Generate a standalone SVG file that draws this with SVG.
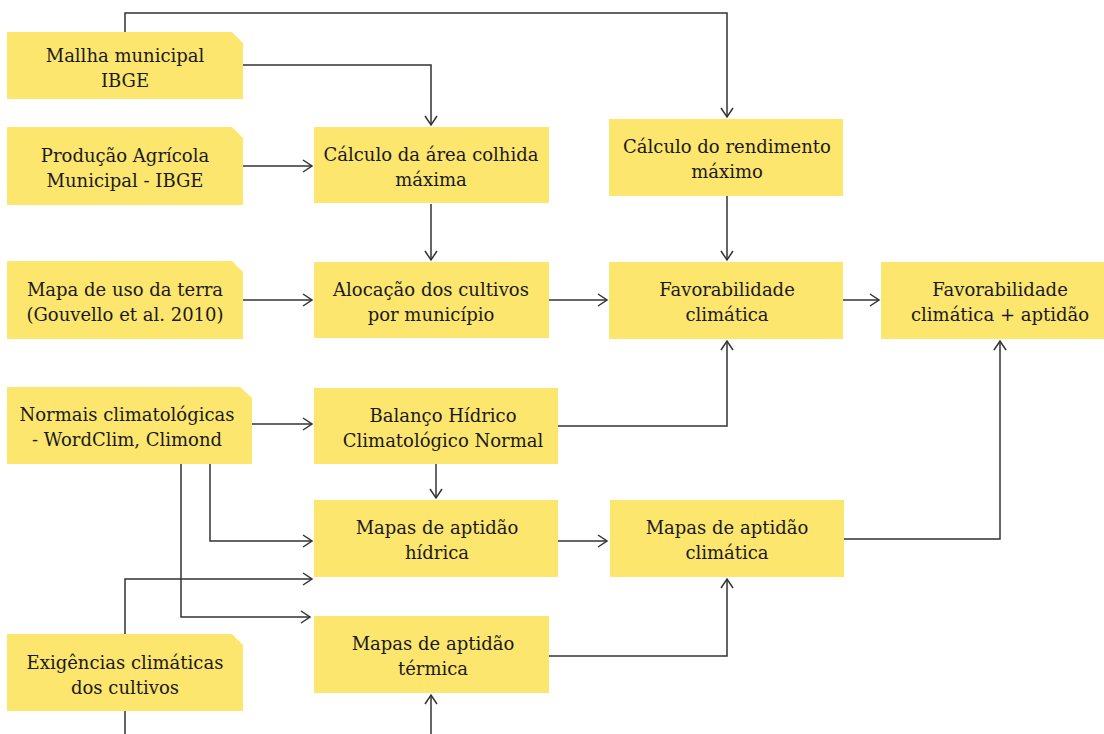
<svg xmlns="http://www.w3.org/2000/svg" width="1104" height="734" viewBox="0 0 1104 734">
<style>
.n{fill:#FDE66E;}
.t{font-family:"DejaVu Serif","Liberation Serif",serif;font-size:18px;fill:#1a1a1a;text-anchor:middle;}
.c{fill:none;stroke:#333;stroke-width:1.5;}
</style>
<defs>
<marker id="a" markerUnits="userSpaceOnUse" markerWidth="14" markerHeight="14" viewBox="-11 -7 13 14" refX="0" refY="0" orient="auto">
<path d="M-9,-6 L0,0 L-9,6" fill="none" stroke="#333" stroke-width="1.5"/>
</marker>
</defs>
<rect width="1104" height="734" fill="#fff"/>
<g id="connectors" class="c">
<path d="M125,32 V13 H727 V117" marker-end="url(#a)"/>
<path d="M243,65 H431 V125" marker-end="url(#a)"/>
<path d="M243,166 H312" marker-end="url(#a)"/>
<path d="M431,204 V260" marker-end="url(#a)"/>
<path d="M243,300 H312" marker-end="url(#a)"/>
<path d="M549,300 H607" marker-end="url(#a)"/>
<path d="M727,196 V260" marker-end="url(#a)"/>
<path d="M843,300 H879" marker-end="url(#a)"/>
<path d="M252,424 H312" marker-end="url(#a)"/>
<path d="M558,426 H727 V341" marker-end="url(#a)"/>
<path d="M436,464 V498" marker-end="url(#a)"/>
<path d="M210,464 V541 H312" marker-end="url(#a)"/>
<path d="M181,464 V617 H310" marker-end="url(#a)"/>
<path d="M125,634 V579 H312" marker-end="url(#a)"/>
<path d="M125,711 V734"/>
<path d="M431,734 V695" marker-end="url(#a)"/>
<path d="M558,541 H607" marker-end="url(#a)"/>
<path d="M549,656 H727 V579" marker-end="url(#a)"/>
<path d="M843,539 H1000 V341" marker-end="url(#a)"/>
</g>
<g id="mallha">
<path class="n" d="M7,32 H232 L243,43 V99 H7 Z"/>
<text class="t" x="125" y="62">Mallha municipal</text>
<text class="t" x="125" y="87">IBGE</text>
</g>
<g id="producao">
<path class="n" d="M7,127 H232 L243,138 V205 H7 Z"/>
<text class="t" x="125" y="162">Produção Agrícola</text>
<text class="t" x="125" y="187">Municipal - IBGE</text>
</g>
<g id="mapa-uso">
<path class="n" d="M7,261 H232 L243,272 V339 H7 Z"/>
<text class="t" x="125" y="296">Mapa de uso da terra</text>
<text class="t" x="125" y="321">(Gouvello et al. 2010)</text>
</g>
<g id="normais">
<path class="n" d="M7,387 H240 L252,398 V464 H7 Z"/>
<text class="t" x="127" y="421">Normais climatológicas</text>
<text class="t" x="127" y="446">- WordClim, Climond</text>
</g>
<g id="exigencias">
<path class="n" d="M7,634 H232 L243,645 V711 H7 Z"/>
<text class="t" x="125" y="669">Exigências climáticas</text>
<text class="t" x="125" y="694">dos cultivos</text>
</g>
<g id="calc-area">
<rect class="n" x="314" y="127" width="235" height="76"/>
<text class="t" x="431" y="161">Cálculo da área colhida</text>
<text class="t" x="431" y="186">máxima</text>
</g>
<g id="alocacao">
<rect class="n" x="314" y="262" width="235" height="76"/>
<text class="t" x="431" y="296">Alocação dos cultivos</text>
<text class="t" x="431" y="321">por município</text>
</g>
<g id="balanco">
<rect class="n" x="314" y="388" width="244" height="76"/>
<text class="t" x="443" y="422">Balanço Hídrico</text>
<text class="t" x="443" y="447">Climatológico Normal</text>
</g>
<g id="hidrica">
<rect class="n" x="314" y="500" width="244" height="77"/>
<text class="t" x="437" y="534">Mapas de aptidão</text>
<text class="t" x="437" y="559">hídrica</text>
</g>
<g id="termica">
<rect class="n" x="314" y="616" width="235" height="77"/>
<text class="t" x="433" y="650">Mapas de aptidão</text>
<text class="t" x="433" y="675">térmica</text>
</g>
<g id="rendimento">
<rect class="n" x="609" y="119" width="234" height="77"/>
<text class="t" x="727" y="153">Cálculo do rendimento</text>
<text class="t" x="727" y="178">máximo</text>
</g>
<g id="favorabilidade">
<rect class="n" x="609" y="262" width="234" height="77"/>
<text class="t" x="727" y="296">Favorabilidade</text>
<text class="t" x="727" y="321">climática</text>
</g>
<g id="favorabilidade-aptidao">
<rect class="n" x="881" y="262" width="223" height="77"/>
<text class="t" x="1000" y="296">Favorabilidade</text>
<text class="t" x="1000" y="321">climática + aptidão</text>
</g>
<g id="climatica">
<rect class="n" x="610" y="500" width="234" height="77"/>
<text class="t" x="727" y="534">Mapas de aptidão</text>
<text class="t" x="727" y="559">climática</text>
</g>
</svg>
